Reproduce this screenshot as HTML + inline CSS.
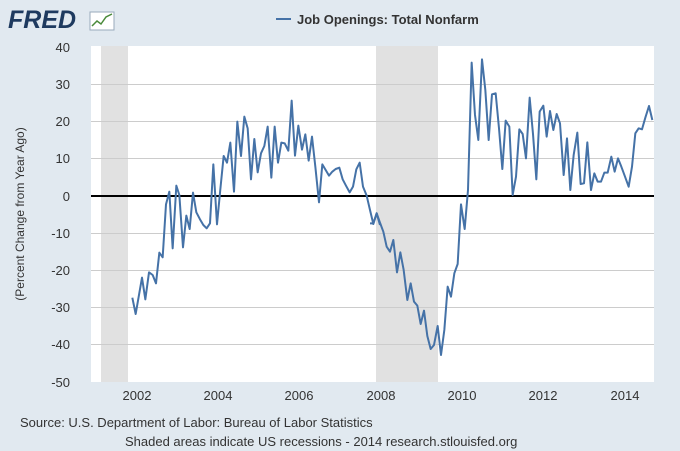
<!DOCTYPE html><html><head><style>body{margin:0;background:#e1e9f0;}svg{display:block;font-family:"Liberation Sans",sans-serif;}</style></head><body>
<svg width="680" height="451" xmlns="http://www.w3.org/2000/svg">
<rect width="680" height="451" fill="#e1e9f0"/>
<text x="8" y="28" font-size="25" font-weight="bold" fill="#1e3a5f" font-style="italic">FRED</text>
<rect x="90" y="12" width="24" height="18" fill="#fff" stroke="#9ab" stroke-width="1"/>
<polyline points="92,26 97,21 101,24 106,17 112,14" fill="none" stroke="#4a8a3a" stroke-width="1.5"/>
<line x1="276" y1="19" x2="291" y2="19" stroke="#4572a7" stroke-width="2"/>
<text x="297" y="24" font-size="13" font-weight="bold" fill="#333">Job Openings: Total Nonfarm</text>
<rect x="91" y="46" width="563" height="336" fill="#fff"/>
<rect x="101" y="46" width="27" height="336" fill="#e1e1e1"/>
<rect x="376" y="46" width="62" height="336" fill="#e1e1e1"/>
<g stroke="#ccc" stroke-width="1">
<line x1="91" x2="654" y1="84.5" y2="84.5"/><line x1="91" x2="654" y1="121.5" y2="121.5"/><line x1="91" x2="654" y1="158.5" y2="158.5"/>
<line x1="91" x2="654" y1="233.5" y2="233.5"/><line x1="91" x2="654" y1="270.5" y2="270.5"/><line x1="91" x2="654" y1="307.5" y2="307.5"/><line x1="91" x2="654" y1="344.5" y2="344.5"/>
</g>
<line x1="91" x2="654" y1="196" y2="196" stroke="#000" stroke-width="2"/>
<g font-size="13" fill="#333" text-anchor="end">
<text x="70" y="52">40</text><text x="70" y="89">30</text><text x="70" y="126">20</text><text x="70" y="163">10</text><text x="70" y="201">0</text><text x="70" y="238">-10</text><text x="70" y="275">-20</text><text x="70" y="312">-30</text><text x="70" y="349">-40</text><text x="70" y="387">-50</text>
</g>
<g font-size="13" fill="#333" text-anchor="middle">
<text x="137" y="400">2002</text><text x="218" y="400">2004</text><text x="299" y="400">2006</text><text x="381" y="400">2008</text><text x="462" y="400">2010</text><text x="543" y="400">2012</text><text x="625" y="400">2014</text>
</g>
<text transform="translate(24,214) rotate(-90)" font-size="12" fill="#333" text-anchor="middle">(Percent Change from Year Ago)</text>
<g fill="none" stroke="#4572a7" stroke-width="2" stroke-linejoin="round">
<polyline vector-effect="non-scaling-stroke" transform="translate(90,40) scale(0.33333)" points="127,773 137,822 156,713 166,778 177,697 188,705 198,730 208,638 218,652 228,493 238,455 248,625 259,437 268,465 279,622 289,527 299,567 309,458 319,517 330,538 340,555 350,565 360,550 370,373 381,553 391,448 401,348 411,368 421,308 432,455 442,245 453,348 463,230 473,265 483,418 493,297 503,397 513,340 523,318 533,260 544,413 554,260 564,368 574,308 584,310 595,332 605,182 615,347 625,257 636,329 646,283 656,362 666,290 676,380 687,487 697,373 707,390 717,407 727,395 737,387 748,383 758,418 768,437 779,457 789,440 799,388 809,368 819,440 830,467 840,510 850,552 860,520 870,555"/>
<polyline vector-effect="non-scaling-stroke" transform="translate(370,40) scale(0.33333)" points="0,550 10,550 20,520 30,548 40,575 50,620 60,635 70,600 81,697 91,637 101,690 112,780 122,730 132,785 142,797 152,852 162,812 172,888 182,927 192,915 203,858 213,945 223,870 233,740 243,770 253,700 263,672 273,493 284,567 294,450 305,68 315,225 325,300 336,58 346,150 356,300 366,163 377,160 387,265 397,387 407,242 418,260 428,465 438,410 448,268 458,282 468,355 479,173 489,282 499,418 509,215 520,197 530,290 540,213 550,270 560,222 570,250 581,405 591,295 601,450 611,345 622,278 632,432 642,430 652,307 663,450 673,400 683,425 693,425 703,398 713,398 724,350 734,395 744,355 754,380 764,407 776,440 786,380 796,280 806,265 816,268 826,233 837,198 847,240"/>
</g>
<text x="20" y="427" font-size="13" fill="#333">Source: U.S. Department of Labor: Bureau of Labor Statistics</text>
<text x="125" y="446" font-size="13" fill="#333">Shaded areas indicate US recessions - 2014 research.stlouisfed.org</text>
</svg></body></html>
